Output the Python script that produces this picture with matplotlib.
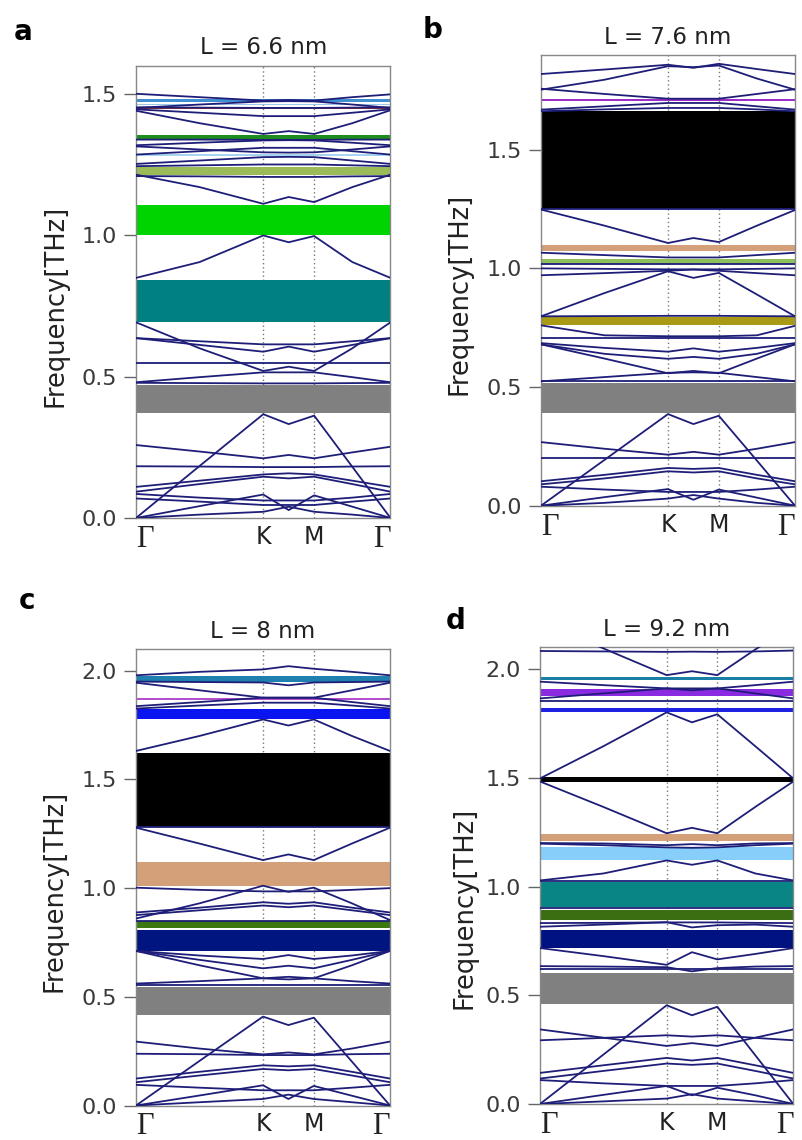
import matplotlib
matplotlib.use("Agg")
import matplotlib.pyplot as plt

# sampling points along the path Γ-K-M-Γ
k_path = [0.0, 0.5, 1.0, 1.2, 1.4, 1.7, 2.0]
k_ticks = [0.0, 1.0, 1.4, 2.0]
k_labels = ["Γ", "K", "M", "Γ"]

# ---- a: L = 6.6 nm ----
a_bands = [
    [1.500, 1.488, 1.476, 1.478, 1.476, 1.488, 1.498],
    [1.450, 1.462, 1.473, 1.474, 1.473, 1.462, 1.450],
    [1.445, 1.433, 1.421, 1.421, 1.421, 1.433, 1.445],
    [1.440, 1.396, 1.358, 1.368, 1.358, 1.396, 1.442],
    [1.452, 1.451, 1.450, 1.450, 1.450, 1.451, 1.452],
    [1.338, 1.338, 1.337, 1.337, 1.337, 1.338, 1.338],
    [1.318, 1.327, 1.335, 1.336, 1.335, 1.327, 1.318],
    [1.314, 1.303, 1.293, 1.292, 1.293, 1.303, 1.314],
    [1.285, 1.297, 1.309, 1.309, 1.309, 1.297, 1.285],
    [1.252, 1.264, 1.276, 1.277, 1.276, 1.264, 1.252],
    [1.244, 1.247, 1.250, 1.250, 1.250, 1.247, 1.244],
    [1.209, 1.208, 1.206, 1.206, 1.206, 1.208, 1.209],
    [1.214, 1.170, 1.111, 1.135, 1.117, 1.170, 1.214],
    [0.849, 0.905, 0.999, 0.975, 0.997, 0.905, 0.849],
    [0.692, 0.600, 0.520, 0.535, 0.520, 0.600, 0.692],
    [0.636, 0.612, 0.588, 0.606, 0.588, 0.612, 0.636],
    [0.636, 0.625, 0.614, 0.614, 0.614, 0.625, 0.636],
    [0.547, 0.547, 0.547, 0.547, 0.547, 0.547, 0.547],
    [0.480, 0.498, 0.515, 0.515, 0.515, 0.498, 0.480],
    [0.478, 0.477, 0.476, 0.476, 0.476, 0.477, 0.478],
    [0.000, 0.184, 0.367, 0.332, 0.362, 0.181, 0.000],
    [0.258, 0.235, 0.211, 0.223, 0.211, 0.232, 0.252],
    [0.183, 0.182, 0.180, 0.180, 0.180, 0.182, 0.183],
    [0.110, 0.132, 0.154, 0.158, 0.154, 0.132, 0.110],
    [0.093, 0.120, 0.146, 0.140, 0.146, 0.120, 0.093],
    [0.085, 0.072, 0.062, 0.062, 0.062, 0.072, 0.085],
    [0.069, 0.058, 0.046, 0.046, 0.046, 0.058, 0.069],
    [0.000, 0.042, 0.083, 0.028, 0.080, 0.040, 0.000],
    [0.000, 0.012, 0.022, 0.040, 0.022, 0.012, 0.000],
]
a_gap_lo = [1.470, 1.459, 1.447, 1.338, 1.280, 1.214, 1.000, 0.694, 0.370]
a_gap_hi = [1.482, 1.464, 1.451, 1.356, 1.288, 1.240, 1.105, 0.843, 0.470]
a_gap_colors = ["#3f8fd2", "#9cc8ec", "#a0302a", "#1e8c1e", "#a8d4f2",
                "#9bbb59", "#00d400", "#008080", "#808080"]

# ---- b: L = 7.6 nm ----
b_bands = [
    [1.819, 1.838, 1.858, 1.845, 1.862, 1.840, 1.819],
    [1.753, 1.795, 1.852, 1.848, 1.855, 1.800, 1.753],
    [1.757, 1.735, 1.715, 1.715, 1.715, 1.735, 1.755],
    [1.669, 1.683, 1.697, 1.697, 1.697, 1.683, 1.669],
    [1.662, 1.670, 1.676, 1.676, 1.676, 1.670, 1.662],
    [1.248, 1.180, 1.107, 1.128, 1.111, 1.180, 1.246],
    [1.249, 1.249, 1.249, 1.249, 1.249, 1.249, 1.249],
    [1.066, 1.056, 1.046, 1.046, 1.046, 1.056, 1.066],
    [1.017, 1.017, 1.017, 1.017, 1.017, 1.017, 1.017],
    [0.971, 0.980, 0.990, 0.995, 0.990, 0.980, 0.971],
    [1.000, 0.998, 0.996, 0.996, 0.996, 0.998, 1.000],
    [0.798, 0.896, 0.988, 0.960, 0.981, 0.890, 0.798],
    [0.798, 0.799, 0.800, 0.800, 0.800, 0.799, 0.798],
    [0.760, 0.718, 0.714, 0.714, 0.714, 0.718, 0.758],
    [0.706, 0.706, 0.706, 0.706, 0.706, 0.706, 0.706],
    [0.685, 0.665, 0.649, 0.663, 0.649, 0.665, 0.685],
    [0.680, 0.640, 0.619, 0.627, 0.619, 0.640, 0.680],
    [0.680, 0.620, 0.558, 0.568, 0.558, 0.620, 0.680],
    [0.524, 0.542, 0.560, 0.562, 0.560, 0.542, 0.524],
    [0.526, 0.526, 0.526, 0.526, 0.526, 0.526, 0.526],
    [0.000, 0.193, 0.386, 0.344, 0.379, 0.190, 0.000],
    [0.268, 0.240, 0.215, 0.227, 0.215, 0.240, 0.268],
    [0.201, 0.201, 0.201, 0.201, 0.201, 0.201, 0.201],
    [0.103, 0.130, 0.159, 0.155, 0.159, 0.130, 0.103],
    [0.090, 0.115, 0.145, 0.140, 0.145, 0.115, 0.090],
    [0.080, 0.068, 0.058, 0.058, 0.058, 0.068, 0.080],
    [0.000, 0.036, 0.070, 0.025, 0.068, 0.034, 0.000],
    [0.000, 0.012, 0.030, 0.045, 0.030, 0.012, 0.000],
]
b_gap_lo = [1.704, 1.252, 1.072, 1.019, 0.760, 0.391]
b_gap_hi = [1.712, 1.662, 1.100, 1.041, 0.794, 0.517]
b_gap_colors = ["#9b30c8", "#000000", "#d4a07a", "#8dc05a", "#a89a14", "#808080"]

# ---- c: L = 8 nm ----
c_bands = [
    [1.979, 1.995, 2.006, 2.021, 2.009, 1.995, 1.979],
    [1.950, 1.948, 1.946, 1.933, 1.946, 1.948, 1.950],
    [1.945, 1.910, 1.876, 1.876, 1.876, 1.910, 1.945],
    [1.837, 1.856, 1.876, 1.876, 1.876, 1.856, 1.837],
    [1.826, 1.840, 1.853, 1.853, 1.853, 1.840, 1.826],
    [1.631, 1.700, 1.776, 1.748, 1.776, 1.700, 1.631],
    [1.278, 1.205, 1.129, 1.155, 1.129, 1.205, 1.278],
    [1.280, 1.280, 1.280, 1.280, 1.280, 1.280, 1.280],
    [0.860, 0.930, 1.011, 0.983, 1.002, 0.930, 0.853],
    [1.002, 0.992, 0.985, 0.985, 0.985, 0.992, 1.000],
    [0.888, 0.910, 0.935, 0.928, 0.935, 0.910, 0.888],
    [0.876, 0.898, 0.920, 0.912, 0.920, 0.898, 0.876],
    [0.850, 0.850, 0.850, 0.850, 0.850, 0.850, 0.850],
    [0.711, 0.690, 0.674, 0.692, 0.674, 0.690, 0.711],
    [0.711, 0.670, 0.631, 0.643, 0.631, 0.670, 0.711],
    [0.711, 0.645, 0.585, 0.592, 0.585, 0.645, 0.711],
    [0.561, 0.572, 0.585, 0.580, 0.585, 0.572, 0.561],
    [0.556, 0.556, 0.556, 0.556, 0.556, 0.556, 0.556],
    [0.000, 0.205, 0.409, 0.370, 0.404, 0.202, 0.000],
    [0.294, 0.262, 0.235, 0.244, 0.235, 0.262, 0.294],
    [0.238, 0.236, 0.232, 0.232, 0.232, 0.236, 0.238],
    [0.124, 0.155, 0.185, 0.180, 0.185, 0.155, 0.124],
    [0.107, 0.138, 0.168, 0.162, 0.168, 0.138, 0.107],
    [0.095, 0.082, 0.070, 0.070, 0.070, 0.082, 0.095],
    [0.000, 0.046, 0.093, 0.030, 0.090, 0.045, 0.000],
    [0.000, 0.015, 0.030, 0.050, 0.030, 0.015, 0.000],
]
c_gap_lo = [1.950, 1.866, 1.776, 1.282, 1.011, 0.815, 0.711, 0.416]
c_gap_hi = [1.975, 1.876, 1.825, 1.623, 1.121, 0.849, 0.807, 0.547]
c_gap_colors = ["#1f7fae", "#b44fd0", "#0a14f0", "#000000", "#d4a07a",
                "#3c7812", "#00157f", "#808080"]

# ---- d: L = 9.2 nm ----
d_bands = [
    [2.083, 2.081, 2.079, 2.080, 2.079, 2.081, 2.085],
    [2.220, 2.095, 1.972, 1.990, 1.972, 2.090, 2.200],
    [1.942, 1.926, 1.911, 1.911, 1.911, 1.926, 1.942],
    [1.865, 1.888, 1.911, 1.902, 1.911, 1.888, 1.865],
    [1.852, 1.852, 1.852, 1.852, 1.852, 1.852, 1.852],
    [1.497, 1.645, 1.801, 1.755, 1.792, 1.645, 1.497],
    [1.483, 1.366, 1.245, 1.270, 1.245, 1.366, 1.483],
    [1.200, 1.198, 1.190, 1.195, 1.190, 1.198, 1.200],
    [1.197, 1.190, 1.180, 1.178, 1.180, 1.190, 1.197],
    [1.028, 1.060, 1.120, 1.100, 1.120, 1.060, 1.028],
    [1.027, 1.027, 1.027, 1.027, 1.027, 1.027, 1.027],
    [0.901, 0.901, 0.901, 0.901, 0.901, 0.901, 0.901],
    [0.815, 0.825, 0.836, 0.812, 0.822, 0.825, 0.815],
    [0.832, 0.833, 0.835, 0.835, 0.835, 0.833, 0.832],
    [0.717, 0.680, 0.640, 0.698, 0.665, 0.690, 0.717],
    [0.634, 0.632, 0.629, 0.610, 0.625, 0.632, 0.634],
    [0.620, 0.620, 0.620, 0.620, 0.620, 0.620, 0.620],
    [0.000, 0.227, 0.454, 0.408, 0.447, 0.224, 0.000],
    [0.343, 0.305, 0.267, 0.280, 0.267, 0.305, 0.343],
    [0.293, 0.304, 0.316, 0.310, 0.316, 0.304, 0.293],
    [0.143, 0.178, 0.212, 0.200, 0.212, 0.178, 0.143],
    [0.117, 0.152, 0.186, 0.180, 0.186, 0.152, 0.117],
    [0.110, 0.095, 0.083, 0.083, 0.083, 0.095, 0.110],
    [0.000, 0.042, 0.083, 0.040, 0.075, 0.040, 0.000],
    [0.000, 0.012, 0.025, 0.045, 0.025, 0.012, 0.000],
]
d_gap_lo = [1.948, 1.877, 1.801, 1.482, 1.209, 1.120, 0.906, 0.845, 0.717, 0.461]
d_gap_hi = [1.965, 1.908, 1.822, 1.505, 1.240, 1.182, 1.021, 0.893, 0.799, 0.604]
d_gap_colors = ["#1a7fa6", "#8a2be2", "#1e22e0", "#000000", "#d4a07a",
                "#87cefa", "#0a8585", "#3b6e12", "#00127f", "#808080"]

W, H = 803, 1140
fig = plt.figure(figsize=(W / 100, H / 100), dpi=100)


def px_axes(left, top, right, bottom):
    return fig.add_axes([left / W, 1 - bottom / H, (right - left) / W, (bottom - top) / H])


def draw_panel(ax, bands, gap_lo, gap_hi, gap_colors, title, ymax, yticks, ylab_x, ylab_y):
    for x in k_ticks[1:3]:
        ax.axvline(x, color="#777777", ls=(0, (1, 2)), lw=1.0, zorder=1)
    for lo, hi, c in zip(gap_lo, gap_hi, gap_colors):
        ax.axhspan(lo, hi, color=c, lw=0, zorder=2)
    for b in bands:
        ax.plot(k_path, b, color="#1e1e78", lw=1.3, zorder=3)
    ax.set_xlim(0, 2)
    ax.set_ylim(0, ymax)
    ax.set_yticks(yticks)
    ax.set_yticklabels([f"{t:.1f}" for t in yticks])
    ax.set_xticks(k_ticks)
    ax.set_xticklabels(k_labels)
    for i, lab in enumerate(ax.get_xticklabels()):
        if lab.get_text() == "Γ":
            lab.set_fontfamily("Liberation Serif")
            lab.set_fontsize(22)
        else:
            lab.set_fontsize(17)
        if i == 0:
            lab.set_horizontalalignment("left")
        elif i == len(k_ticks) - 1:
            lab.set_horizontalalignment("right")
    ax.tick_params(axis="x", length=0, pad=5, colors="#222222")
    ax.tick_params(axis="y", length=9, width=1, color="#666666",
                   labelsize=16, labelcolor="#3a3a3a", pad=5)
    for s in ax.spines.values():
        s.set_color("#888888")
        s.set_linewidth(1.0)
    ax.set_title(title, fontsize=16.5, pad=8, color="#222222")
    ax.set_ylabel("Frequency[THz]", fontsize=18.5, color="#222222")
    ax.yaxis.set_label_coords(ylab_x, ylab_y)


ax_a = px_axes(136, 65.5, 390.5, 518)
draw_panel(ax_a, a_bands, a_gap_lo, a_gap_hi, a_gap_colors, "L = 6.6 nm",
           1.6, [0.0, 0.5, 1.0, 1.5], -0.265, 0.468)
ax_b = px_axes(541, 54.8, 795, 505.7)
draw_panel(ax_b, b_bands, b_gap_lo, b_gap_hi, b_gap_colors, "L = 7.6 nm",
           1.9, [0.0, 0.5, 1.0, 1.5], -0.27, 0.469)
ax_c = px_axes(136, 649, 390, 1105.5)
draw_panel(ax_c, c_bands, c_gap_lo, c_gap_hi, c_gap_colors, "L = 8 nm",
           2.1, [0.0, 0.5, 1.0, 1.5, 2.0], -0.27, 0.47)
ax_d = px_axes(540, 647.3, 793.3, 1104)
draw_panel(ax_d, d_bands, d_gap_lo, d_gap_hi, d_gap_colors, "L = 9.2 nm",
           2.1, [0.0, 0.5, 1.0, 1.5, 2.0], -0.245, 0.43)

# panel letters
for letter, x, y in [("a", 23, 32), ("b", 433, 30), ("c", 27, 601), ("d", 456, 621)]:
    fig.text(x / W, 1 - y / H, letter, fontsize=20, fontweight="bold",
             ha="center", va="center")

fig.savefig("out.png", dpi=100)
